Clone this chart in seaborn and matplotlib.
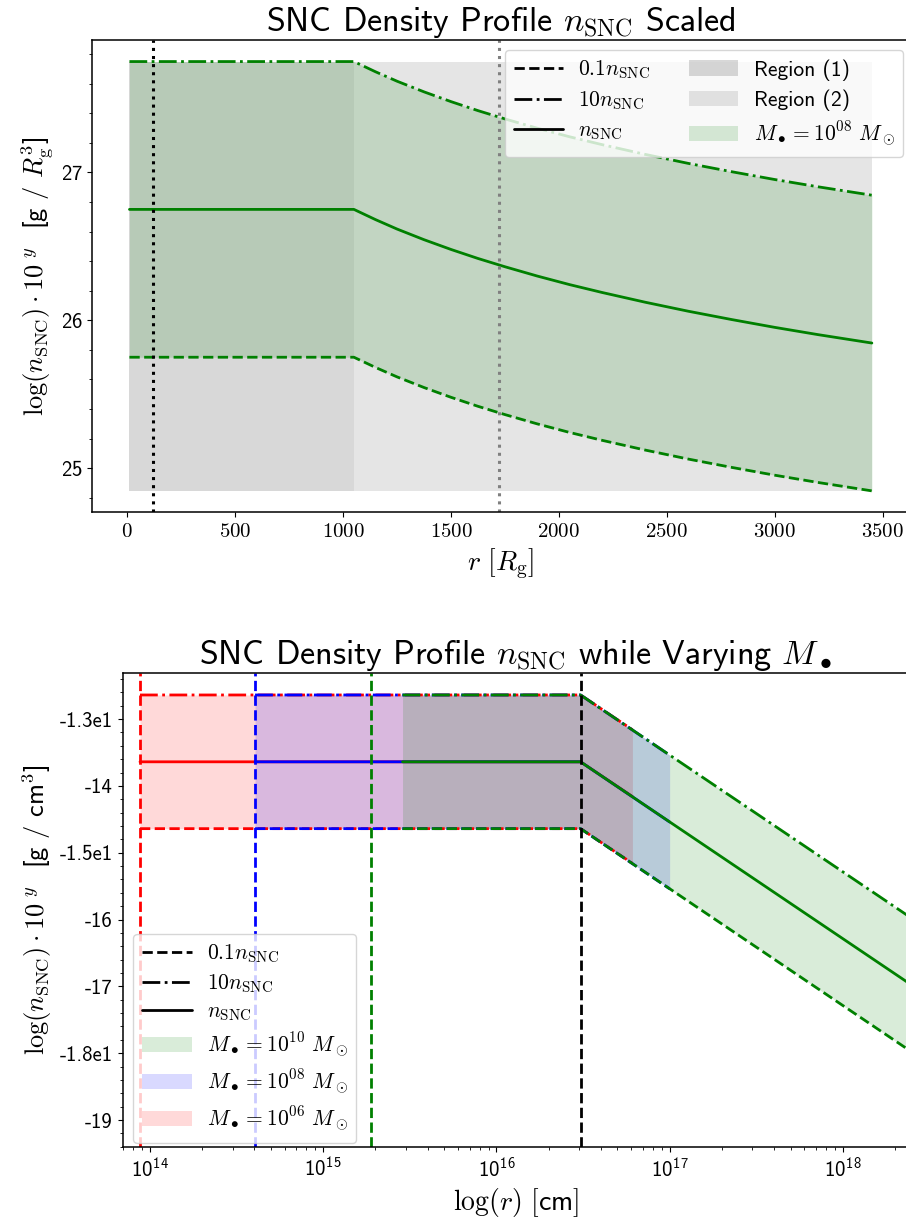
import matplotlib
matplotlib.use("Agg")
import matplotlib.pyplot as plt
import seaborn as sns
from matplotlib.lines import Line2D
from matplotlib.patches import Patch
from matplotlib.ticker import FixedLocator, FixedFormatter, FuncFormatter, AutoMinorLocator

# ---------------- data: top panel (r in R_g, log density) ----------------
top_r = [10, 1050, 1150, 1250, 1375, 1500, 1625, 1750, 1900, 2050, 2200,
         2400, 2600, 2800, 3000, 3200, 3450]
top_n = [26.75, 26.75, 26.681, 26.617, 26.545, 26.479, 26.418, 26.362, 26.299,
         26.241, 26.188, 26.122, 26.061, 26.005, 25.952, 25.903, 25.846]
top_n_low = [25.75, 25.75, 25.681, 25.617, 25.545, 25.479, 25.418, 25.362, 25.299,
             25.241, 25.188, 25.122, 25.061, 25.005, 24.952, 24.903, 24.846]
top_n_high = [27.75, 27.75, 27.681, 27.617, 27.545, 27.479, 27.418, 27.362, 27.299,
              27.241, 27.188, 27.122, 27.061, 27.005, 26.952, 26.903, 26.846]
region1_r = [10, 1050]
region2_r = [1050, 3450]
region_lo = 24.846
region_hi = 27.75
top_vline_r = [120, 1724]
top_xticks = [0, 500, 1000, 1500, 2000, 2500, 3000, 3500]
top_yticks = [25, 26, 27]

# ---------------- data: bottom panel (r in cm, log density) ----------------
r_m06 = [8.75e13, 3.06e16, 6.1e16]
n_m06 = [-13.64, -13.64, -14.16]
n_m06_low = [-14.64, -14.64, -15.16]
n_m06_high = [-12.64, -12.64, -13.16]

r_m08 = [4.04e14, 3.06e16, 1.0e17]
n_m08 = [-13.64, -13.64, -14.54]
n_m08_low = [-14.64, -14.64, -15.54]
n_m08_high = [-12.64, -12.64, -13.54]

r_m10 = [2.87e15, 3.06e16, 3.0e18]
n_m10 = [-13.64, -13.64, -17.12]
n_m10_low = [-14.64, -14.64, -18.12]
n_m10_high = [-12.64, -12.64, -16.12]

bottom_vline_r = [8.75e13, 4.04e14, 1.88e15, 3.06e16]
bottom_yticks = [-13, -14, -15, -16, -17, -18, -19]
bottom_yticklabels = ["-1.3e1", "-14", "-1.5e1", "-16", "-17", "-1.8e1", "-19"]
mass_labels = [r"$M_\bullet = 10^{10}\ M_\odot$", r"$M_\bullet = 10^{08}\ M_\odot$",
               r"$M_\bullet = 10^{06}\ M_\odot$"]

# ---------------- style ----------------
sns.set_style("ticks", {"axes.edgecolor": "black", "xtick.color": "black",
                        "ytick.color": "black", "text.color": "black",
                        "axes.labelcolor": "black"})
plt.rcParams["font.family"] = ["cmss10", "DejaVu Sans"]
plt.rcParams["mathtext.fontset"] = "cm"
plt.rcParams["axes.formatter.use_mathtext"] = True
plt.rcParams["axes.unicode_minus"] = False
plt.rcParams["axes.linewidth"] = 1.1

TICK_FS = 15
XLABEL_FS = 20
YLABEL_FS = 19
TITLE_FS = 24.5
LEG_FS = 15.5
LW = 2.0

fig = plt.figure(figsize=(9.06, 12.26), dpi=100)
ax1 = fig.add_axes([0.1019, 0.5821, 0.9014, 0.3852])
ax2 = fig.add_axes([0.1354, 0.0644, 0.8679, 0.3864])
for ax in (ax1, ax2):
    ax.spines["right"].set_visible(False)

# ---------------- top panel ----------------
ax1.fill_between(region1_r, region_lo, region_hi, color="gray", alpha=0.3, lw=0)
ax1.fill_between(region2_r, region_lo, region_hi, color="gray", alpha=0.2, lw=0)
ax1.fill_between(top_r, top_n_low, top_n_high, color="green", alpha=0.15, lw=0)
sns.lineplot(x=top_r, y=top_n_low, ax=ax1, color="green", linestyle="--", lw=LW, legend=False)
sns.lineplot(x=top_r, y=top_n_high, ax=ax1, color="green", linestyle="-.", lw=LW, legend=False)
sns.lineplot(x=top_r, y=top_n, ax=ax1, color="green", linestyle="-", lw=LW, legend=False)
ax1.axvline(top_vline_r[0], color="black", linestyle=":", lw=2.2)
ax1.axvline(top_vline_r[1], color="gray", linestyle=":", lw=2.2)

ax1.set_xticks(top_xticks)
ax1.xaxis.set_major_formatter(FuncFormatter(lambda v, p: f"${v:g}$"))
ax1.set_yticks(top_yticks)
ax1.yaxis.set_minor_locator(AutoMinorLocator(5))
ax1.tick_params(labelsize=TICK_FS)
ax1.set_xlabel(r"$r\ [R_{\rm g}]$", fontsize=XLABEL_FS)
ax1.set_ylabel(r"$\log(n_{\rm SNC})\cdot 10^{\ y}$  [g / $R_{\rm g}^3$]", fontsize=YLABEL_FS)
ax1.set_title(r"SNC Density Profile $n_{\rm SNC}$ Scaled", fontsize=TITLE_FS)

h_top = [Line2D([], [], color="black", ls="--", lw=LW),
         Line2D([], [], color="black", ls="-.", lw=LW),
         Line2D([], [], color="black", ls="-", lw=LW),
         Patch(facecolor="gray", alpha=0.3, lw=0),
         Patch(facecolor="gray", alpha=0.2, lw=0),
         Patch(facecolor="green", alpha=0.15, lw=0)]
l_top = [r"$0.1n_{\rm SNC}$", r"$10n_{\rm SNC}$", r"$n_{\rm SNC}$",
         "Region (1)", "Region (2)", r"$M_\bullet = 10^{08}\ M_\odot$"]
ax1.legend(h_top, l_top, ncol=2, loc="upper right", fontsize=LEG_FS,
           handlelength=2.3, handletextpad=0.7, columnspacing=1.8,
           labelspacing=0.4, bbox_to_anchor=(1.006, 1.002))

# ---------------- bottom panel ----------------
ax2.set_xscale("log")
series = [(r_m06, n_m06, n_m06_low, n_m06_high, "red"),
          (r_m08, n_m08, n_m08_low, n_m08_high, "blue"),
          (r_m10, n_m10, n_m10_low, n_m10_high, "green")]
for r, n, lo, hi, c in series:
    ax2.fill_between(r, lo, hi, color=c, alpha=0.15, lw=0)
    sns.lineplot(x=r, y=lo, ax=ax2, color=c, linestyle="--", lw=LW, legend=False)
    sns.lineplot(x=r, y=hi, ax=ax2, color=c, linestyle="-.", lw=LW, legend=False)
    sns.lineplot(x=r, y=n, ax=ax2, color=c, linestyle="-", lw=LW, legend=False)
for rv, c in zip(bottom_vline_r, ["red", "blue", "green", "black"]):
    ax2.axvline(rv, color=c, linestyle="--", lw=LW)

ax2.set_xlim(10 ** 13.842, 10 ** 18.382)
ax2.set_ylim(-19.404, -12.316)
ax2.yaxis.set_major_locator(FixedLocator(bottom_yticks))
ax2.yaxis.set_major_formatter(FixedFormatter(bottom_yticklabels))
ax2.yaxis.set_minor_locator(AutoMinorLocator(5))
ax2.tick_params(labelsize=TICK_FS)
ax2.set_xlabel(r"$\log(r)\ [$cm$]$", fontsize=XLABEL_FS)
ax2.set_ylabel(r"$\log(n_{\rm SNC})\cdot 10^{\ y}$  [g / cm$^3$]", fontsize=YLABEL_FS)
ax2.set_title(r"SNC Density Profile $n_{\rm SNC}$ while Varying $M_\bullet$", fontsize=TITLE_FS)

h_bot = [Line2D([], [], color="black", ls="--", lw=LW),
         Line2D([], [], color="black", ls="-.", lw=LW),
         Line2D([], [], color="black", ls="-", lw=LW),
         Patch(facecolor="green", alpha=0.15, lw=0),
         Patch(facecolor="blue", alpha=0.15, lw=0),
         Patch(facecolor="red", alpha=0.15, lw=0)]
l_bot = [r"$0.1n_{\rm SNC}$", r"$10n_{\rm SNC}$", r"$n_{\rm SNC}$"] + mass_labels
ax2.legend(h_bot, l_bot, loc="lower left", fontsize=LEG_FS, handlelength=2.3,
           handletextpad=0.7, labelspacing=0.35, bbox_to_anchor=(0.0, -0.014))

fig.savefig("out.png", dpi=100)
